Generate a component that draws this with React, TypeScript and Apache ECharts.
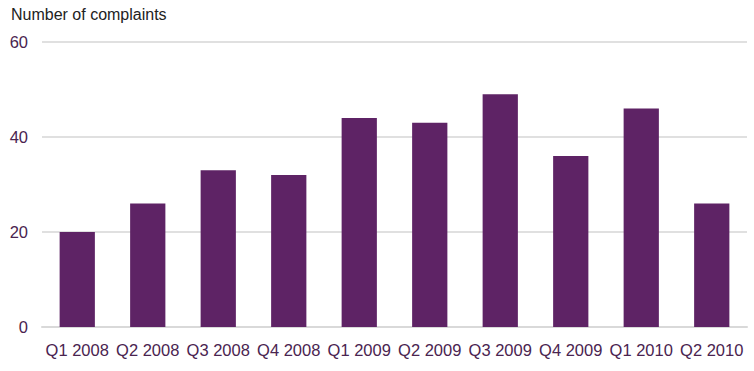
import React, { useEffect, useRef } from "react";
import * as echarts from "echarts";

const categories = ["Q1 2008", "Q2 2008", "Q3 2008", "Q4 2008", "Q1 2009", "Q2 2009", "Q3 2009", "Q4 2009", "Q1 2010", "Q2 2010"];
const complaints = [20, 26, 33, 32, 44, 43, 49, 36, 46, 26];
const yTicks = { min: 0, max: 60, interval: 20 };
const title = "Number of complaints";

export default function App() {
  const ref = useRef<HTMLDivElement>(null);
  useEffect(() => {
    if (!ref.current) return;
    const chart = echarts.init(ref.current, null, { renderer: "svg" });
    chart.setOption({
      animation: false,
      textStyle: { fontFamily: "Liberation Sans, Arial, sans-serif" },
      graphic: [
        {
          type: "text",
          left: 11,
          top: 6,
          style: { text: title, fontSize: 16, fill: "#222", fontFamily: "Liberation Sans, Arial, sans-serif" },
        },
      ],
      grid: { left: 42, right: 7, top: 42, bottom: 44, containLabel: false },
      xAxis: {
        type: "category",
        data: categories,
        axisLine: { lineStyle: { color: "#d9d9d9", width: 2 } },
        axisTick: { show: false },
        axisLabel: { color: "#4a2450", fontSize: 16.5, margin: 14, interval: 0 },
      },
      yAxis: {
        type: "value",
        min: yTicks.min,
        max: yTicks.max,
        interval: yTicks.interval,
        axisLine: { show: false },
        axisTick: { show: false },
        axisLabel: { color: "#4a2450", fontSize: 16.5, margin: 14 },
        splitLine: { lineStyle: { color: "#e0e0e0", width: 2 } },
      },
      series: [
        {
          type: "bar",
          data: complaints,
          barWidth: "50%",
          itemStyle: { color: "#5e2365" },
        },
      ],
    });
    return () => chart.dispose();
  }, []);
  return <div ref={ref} style={{ position: "absolute", left: 0, top: 0, width: 754, height: 371 }} />;
}
